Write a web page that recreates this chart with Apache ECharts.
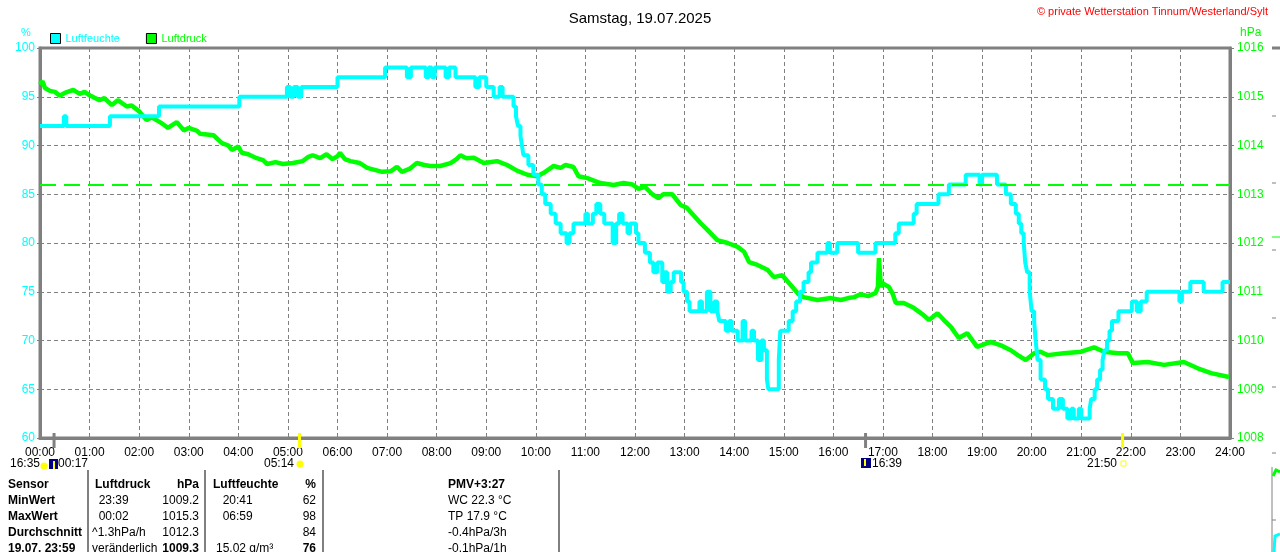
<!DOCTYPE html>
<html lang="de">
<head>
<meta charset="UTF-8">
<title>Wetterstation Tinnum</title>
<script src="https://cdn.jsdelivr.net/npm/echarts@6.0.0/dist/echarts.min.js"></script>
<style>
  html, body { margin: 0; padding: 0; background: #fff; }
  #main { width: 1280px; height: 552px; }
</style>
</head>
<body>
<div id="main"></div>
<script type="text/javascript">
// hours of day (0..24) and values
const humTime = [0.00, 0.48, 0.53, 1.41, 2.40, 4.02, 4.98, 5.05, 5.12, 5.20, 5.27, 6.00, 6.96, 7.40, 7.48, 7.78, 7.84, 7.90, 7.96, 8.18, 8.25, 8.38, 8.78, 8.86, 9.00, 9.15, 9.27, 9.33,
  9.55, 9.60, 9.64, 9.69, 9.72, 9.75, 9.85, 9.95, 10.05, 10.12, 10.19, 10.30, 10.40, 10.50, 10.62, 10.68, 10.76, 11.00, 11.05, 11.15, 11.22, 11.30, 11.38, 11.55, 11.62, 11.68, 11.75, 11.85, 11.90, 12.02, 12.07,
  12.20, 12.30, 12.37, 12.45, 12.55, 12.60, 12.65, 12.72, 12.78, 12.93, 12.98, 13.05, 13.10, 13.30, 13.35, 13.45, 13.52, 13.60, 13.66, 13.70, 13.83, 13.90, 13.95, 14.07, 14.17, 14.22, 14.35, 14.40, 14.48, 14.55, 14.60, 14.66, 14.69,
  14.90, 14.93, 15.10, 15.18, 15.25, 15.33, 15.40, 15.50, 15.55, 15.68, 15.88, 15.93, 16.08, 16.50, 16.85, 17.25, 17.32, 17.62, 17.68, 18.12, 18.33, 18.67, 18.95, 19.00, 19.30, 19.48, 19.58, 19.68, 19.74, 19.79, 19.84, 19.87, 19.91, 19.96,
  20.00, 20.05, 20.08, 20.12, 20.18, 20.27, 20.33, 20.43, 20.55, 20.63, 20.72, 20.80, 20.85, 20.95, 21.00, 21.17, 21.20, 21.27, 21.32, 21.38, 21.43, 21.47, 21.52, 21.57, 21.62, 21.75, 22.02, 22.12, 22.20, 22.32, 22.98, 23.03, 23.20, 23.47, 23.85, 24.00];
const humValue = [92, 93, 92, 93, 94, 95, 96, 95, 96, 95, 96, 97, 98, 97, 98, 97, 98, 97, 98, 97, 98, 97, 96, 97, 96, 95, 96, 95,
  94, 93, 92, 91, 90, 89, 88, 87, 86, 85, 84, 83, 82, 81, 80, 81, 82, 83, 82, 83, 84, 83, 82, 80, 82, 83, 82, 81, 82, 81, 80,
  79, 78, 77, 78, 76, 77, 75, 76, 77, 76, 75, 74, 73, 74, 73, 75, 73, 74, 73, 72, 71, 72, 71, 70, 72, 70, 71, 70, 68, 70, 69, 66, 65,
  68, 71, 72, 73, 74, 75, 76, 77, 78, 79, 80, 79, 80, 79, 80, 81, 82, 83, 84, 85, 86, 87, 86, 87, 86, 85, 84, 83, 82, 81, 80, 78, 77, 75,
  73, 72, 70, 68, 66, 65, 64, 63, 64, 63, 62, 63, 62, 63, 62, 63, 64, 65, 66, 67, 68, 69, 70, 71, 72, 73, 74, 73, 74, 75, 74, 75, 76, 75, 76, 76];

const pressTime = [0.00, 0.05, 0.10, 0.20, 0.30, 0.40, 0.50, 0.67, 0.80, 0.90, 1.00, 1.10, 1.20, 1.30, 1.45, 1.57, 1.75, 1.85, 2.00, 2.15, 2.25, 2.35, 2.45, 2.58, 2.76, 2.90, 3.00, 3.17, 3.23, 3.50, 3.67, 3.80, 3.87,
  4.00, 4.07, 4.20, 4.37, 4.50, 4.58, 4.75, 4.90, 5.10, 5.30, 5.40, 5.50, 5.65, 5.78, 5.90, 6.00, 6.05, 6.15, 6.26, 6.45, 6.60, 6.75, 6.90, 7.07, 7.20, 7.30, 7.45, 7.60, 7.75, 7.87,
  8.07, 8.28, 8.40, 8.48, 8.60, 8.75, 8.95, 9.10, 9.22, 9.42, 9.63, 9.83, 10.03, 10.16, 10.36, 10.50, 10.60, 10.76, 10.86, 11.04, 11.30, 11.57, 11.77, 11.95,
  12.07, 12.20, 12.35, 12.47, 12.57, 12.75, 12.92, 13.05, 13.18, 13.32, 13.46, 13.66, 13.87, 14.07, 14.20, 14.30, 14.47, 14.67, 14.80, 14.97, 15.14, 15.30, 15.40, 15.68, 15.95,
  16.15, 16.30, 16.42, 16.55, 16.70, 16.85, 16.90, 16.92, 16.96, 17.00, 17.12, 17.20, 17.26, 17.42, 17.62, 17.82, 17.93, 18.10, 18.23, 18.37, 18.53, 18.70, 18.90, 19.17, 19.38, 19.58, 19.72, 19.88,
  20.05, 20.18, 20.32, 20.65, 21.00, 21.26, 21.46, 21.74, 21.94, 22.04, 22.34, 22.67, 23.07, 23.35, 23.62, 23.98];
const pressValue = [1015.25, 1015.32, 1015.18, 1015.12, 1015.10, 1015.02, 1015.08, 1015.14, 1015.06, 1015.10, 1015.03, 1014.98, 1014.93, 1014.97, 1014.83, 1014.93, 1014.80, 1014.82, 1014.70, 1014.52, 1014.58, 1014.52, 1014.46, 1014.36, 1014.48, 1014.31, 1014.36, 1014.30, 1014.24, 1014.21, 1014.05, 1014.00, 1013.91,
  1013.98, 1013.85, 1013.82, 1013.74, 1013.70, 1013.62, 1013.66, 1013.62, 1013.64, 1013.68, 1013.76, 1013.80, 1013.74, 1013.82, 1013.72, 1013.78, 1013.85, 1013.72, 1013.68, 1013.64, 1013.54, 1013.50, 1013.46, 1013.47, 1013.56, 1013.46, 1013.52, 1013.64, 1013.60, 1013.58,
  1013.58, 1013.64, 1013.72, 1013.80, 1013.74, 1013.75, 1013.64, 1013.66, 1013.68, 1013.60, 1013.48, 1013.40, 1013.37, 1013.44, 1013.58, 1013.54, 1013.60, 1013.56, 1013.37, 1013.33, 1013.23, 1013.19, 1013.23, 1013.20,
  1013.11, 1013.15, 1013.00, 1012.92, 1013.00, 1013.00, 1012.78, 1012.72, 1012.57, 1012.41, 1012.27, 1012.06, 1012.00, 1011.92, 1011.82, 1011.61, 1011.55, 1011.45, 1011.30, 1011.34, 1011.14, 1010.95, 1010.89, 1010.83, 1010.87,
  1010.83, 1010.87, 1010.89, 1010.95, 1010.91, 1010.97, 1011.10, 1011.69, 1011.10, 1011.17, 1011.10, 1010.95, 1010.77, 1010.77, 1010.67, 1010.52, 1010.42, 1010.56, 1010.42, 1010.28, 1010.05, 1010.15, 1009.87, 1009.97, 1009.90, 1009.80, 1009.70, 1009.60,
  1009.74, 1009.77, 1009.70, 1009.74, 1009.77, 1009.86, 1009.77, 1009.74, 1009.74, 1009.54, 1009.56, 1009.50, 1009.56, 1009.43, 1009.33, 1009.25];

const pressRefLine = 1013.2;

// sun / moon times (hours)
const moonSet = 0 + 17 / 60;
const sunRise = 5 + 14 / 60;
const moonRise = 16 + 39 / 60;
const sunSet = 21 + 50 / 60;

// summary table
const tableRows = [
  ['Sensor', 'Luftdruck', 'hPa', 'Luftfeuchte', '%', 'PMV+3:27'],
  ['MinWert', '  23:39', '1009.2', '  20:41', '62', 'WC 22.3 °C'],
  ['MaxWert', '  00:02', '1015.3', '  06:59', '98', 'TP 17.9 °C'],
  ['Durchschnitt', '^1.3hPa/h', '1012.3', '', '84', '-0.4hPa/3h'],
  ['19.07. 23:59', 'veränderlich', '1009.3', '15.02 g/m³', '76', '-0.1hPa/1h']
];

const FONT = '"Liberation Sans", Arial, sans-serif';
const GRID = '#808080';
const CYAN = '#00ffff';
const GREEN = '#00ff00';

const myChart = echarts.init(document.getElementById('main'));

const humData = humTime.map((t, i) => [t, humValue[i]]);
const pressData = pressTime.map((t, i) => [t, pressValue[i]]);

function txt(text, x, y, opts) {
  opts = opts || {};
  return {
    type: 'text', silent: true, z: 100,
    style: {
      text: text, x: x, y: y,
      fill: opts.color || '#000',
      font: (opts.bold ? 'bold ' : '') + (opts.size || 12) + 'px ' + FONT,
      textAlign: opts.align || 'left', align: opts.align || 'left',
      textVerticalAlign: 'middle', verticalAlign: 'middle'
    }
  };
}
function vline(x, y1, y2, color, w) {
  return { type: 'line', silent: true, z: 100, shape: { x1: x, y1: y1, x2: x, y2: y2 }, style: { stroke: color, lineWidth: w || 1 } };
}
function hline(x1, x2, y, color, w) {
  return { type: 'line', silent: true, z: 100, shape: { x1: x1, y1: y, x2: x2, y2: y }, style: { stroke: color, lineWidth: w || 1 } };
}

let options = {
  backgroundColor: '#fff',
  animation: false,
  title: {
    text: 'Samstag, 19.07.2025', left: 'center', top: 6,
    textStyle: { fontFamily: FONT, fontSize: 15, fontWeight: 'normal', color: '#000' }
  },
  legend: {
    left: 50, top: 33, padding: 0, icon: 'rect', itemWidth: 10, itemHeight: 10, itemGap: 26,
    itemStyle: { borderColor: '#000', borderWidth: 1 },
    textStyle: { fontFamily: FONT, fontSize: 11 },
    data: [
      { name: 'Luftfeuchte', textStyle: { color: CYAN } },
      { name: 'Luftdruck', textStyle: { color: GREEN } }
    ]
  },
  grid: { left: 40, right: 50, top: 48, bottom: 114, show: true, borderColor: GRID, borderWidth: 3, backgroundColor: 'transparent' },
  xAxis: {
    type: 'value', min: 0, max: 24, interval: 1,
    axisLine: { lineStyle: { color: GRID, width: 3 } },
    axisTick: { show: false },
    axisLabel: {
      color: '#000', fontFamily: FONT, fontSize: 12, margin: 9,
      formatter: v => String(v).padStart(2, '0') + ':00'
    },
    splitLine: { show: true, lineStyle: { color: GRID, type: [4, 3], width: 1 } }
  },
  yAxis: [
    {
      type: 'value', min: 60, max: 100, interval: 5, position: 'left',
      axisLine: { show: true, lineStyle: { color: GRID, width: 3 } },
      axisTick: { show: true, length: 3, lineStyle: { color: GRID } },
      axisLabel: { color: CYAN, fontFamily: FONT, fontSize: 12, margin: 5, formatter: v => String(v) },
      splitLine: { show: true, lineStyle: { color: GRID, type: [4, 3], width: 1 } }
    },
    {
      type: 'value', min: 1008, max: 1016, interval: 1, position: 'right',
      axisLine: { show: true, lineStyle: { color: GRID, width: 3 } },
      axisTick: { show: true, length: 4, lineStyle: { color: GRID } },
      axisLabel: { color: GREEN, fontFamily: FONT, fontSize: 12, margin: 7, formatter: v => String(v) },
      splitLine: { show: false }
    }
  ],
  series: [
    {
      name: 'Luftdruck', type: 'line', yAxisIndex: 1, data: pressData,
      symbol: 'none', z: 3,
      itemStyle: { color: GREEN },
      lineStyle: { color: GREEN, width: 4.5 },
      markLine: {
        silent: true, symbol: 'none', label: { show: false },
        lineStyle: { color: GREEN, type: [16, 8], width: 2 },
        data: [{ yAxis: pressRefLine }]
      }
    },
    {
      name: 'Luftfeuchte', type: 'line', yAxisIndex: 0, data: humData,
      symbol: 'none', step: 'end', z: 4,
      itemStyle: { color: CYAN },
      lineStyle: { color: CYAN, width: 4 }
    }
  ]
};

myChart.setOption(options);

// annotations positioned through the chart's own x scale
const px = t => myChart.convertToPixel({ xAxisIndex: 0 }, t);
const g = [];

g.push(txt('© private Wetterstation Tinnum/Westerland/Sylt', 1268, 12, { color: '#ff0000', size: 11, align: 'right' }));
g.push(txt('%', 26, 33, { color: CYAN, size: 11, align: 'center' }));
g.push(txt('hPa', 1240, 33, { color: GREEN, size: 12 }));

// sun / moon marks on the time axis
g.push(vline(px(moonSet), 433, 448, GRID, 3));
g.push(vline(px(sunRise), 433, 448, '#ffff00', 3));
g.push(vline(px(moonRise), 433, 448, GRID, 3));
g.push(vline(px(sunSet), 433, 448, '#ffff00', 3));

g.push(txt('16:35', 10, 464));
g.push({ type: 'circle', silent: true, z: 100, shape: { cx: 44, cy: 466, r: 3.5 }, style: { fill: '#ffff00' } });
g.push({ type: 'rect', silent: true, z: 100, shape: { x: 49, y: 459, width: 9, height: 10 }, style: { fill: '#000080' } });
g.push(vline(54, 461, 469, '#ffff00', 2));
g.push(txt('00:17', 58, 464));

g.push(txt('05:14', 294, 464, { align: 'right' }));
g.push({ type: 'circle', silent: true, z: 100, shape: { cx: 300, cy: 464, r: 3.5 }, style: { fill: '#ffff00' } });

g.push({ type: 'rect', silent: true, z: 100, shape: { x: 861, y: 458, width: 10, height: 10 }, style: { fill: '#000080' } });
g.push(vline(865, 459, 466, '#ffff00', 2));
g.push(txt('16:39', 872, 464));

g.push(txt('21:50', 1117, 464, { align: 'right' }));
g.push({ type: 'rect', silent: true, z: 100, shape: { x: 1121, y: 461, width: 5, height: 5 }, style: { fill: 'none', stroke: '#ffff00', lineWidth: 1 } });

// summary table
[88, 205, 323, 559].forEach(x => g.push(vline(x, 470, 552, GRID, 2)));
const rowY = [485, 501, 517, 533, 549];
tableRows.forEach((r, i) => {
  const y = rowY[i];
  const head = i === 0;
  const last = i === tableRows.length - 1;
  g.push(txt(r[0], 8, y, { bold: true }));
  g.push(txt(r[1], head ? 95 : 92, y, { bold: head }));
  g.push(txt(r[2], 199, y, { bold: head || last, align: 'right' }));
  g.push(txt(r[3], head ? 213 : 216, y, { bold: head }));
  g.push(txt(r[4], 316, y, { bold: head || last, align: 'right' }));
  g.push(txt(r[5], 448, y, { bold: head }));
});

// edge of the neighbouring chart
g.push(hline(1272, 1280, 48, GRID, 3));
[116, 183, 250, 318, 387, 453, 520].forEach(y => g.push(hline(1272, 1276, y, GRID, 1)));
g.push(hline(1272, 1280, 237, GREEN, 1));
g.push(vline(1272, 467, 552, GRID, 1));
g.push({ type: 'polyline', silent: true, z: 100, shape: { points: [[1273, 476], [1276, 470], [1280, 472]] }, style: { stroke: GREEN, lineWidth: 3, fill: 'none' } });
g.push({ type: 'polyline', silent: true, z: 100, shape: { points: [[1274, 552], [1275, 536], [1280, 534]] }, style: { stroke: CYAN, lineWidth: 3, fill: 'none' } });

myChart.setOption({ graphic: g });
</script>
</body>
</html>
